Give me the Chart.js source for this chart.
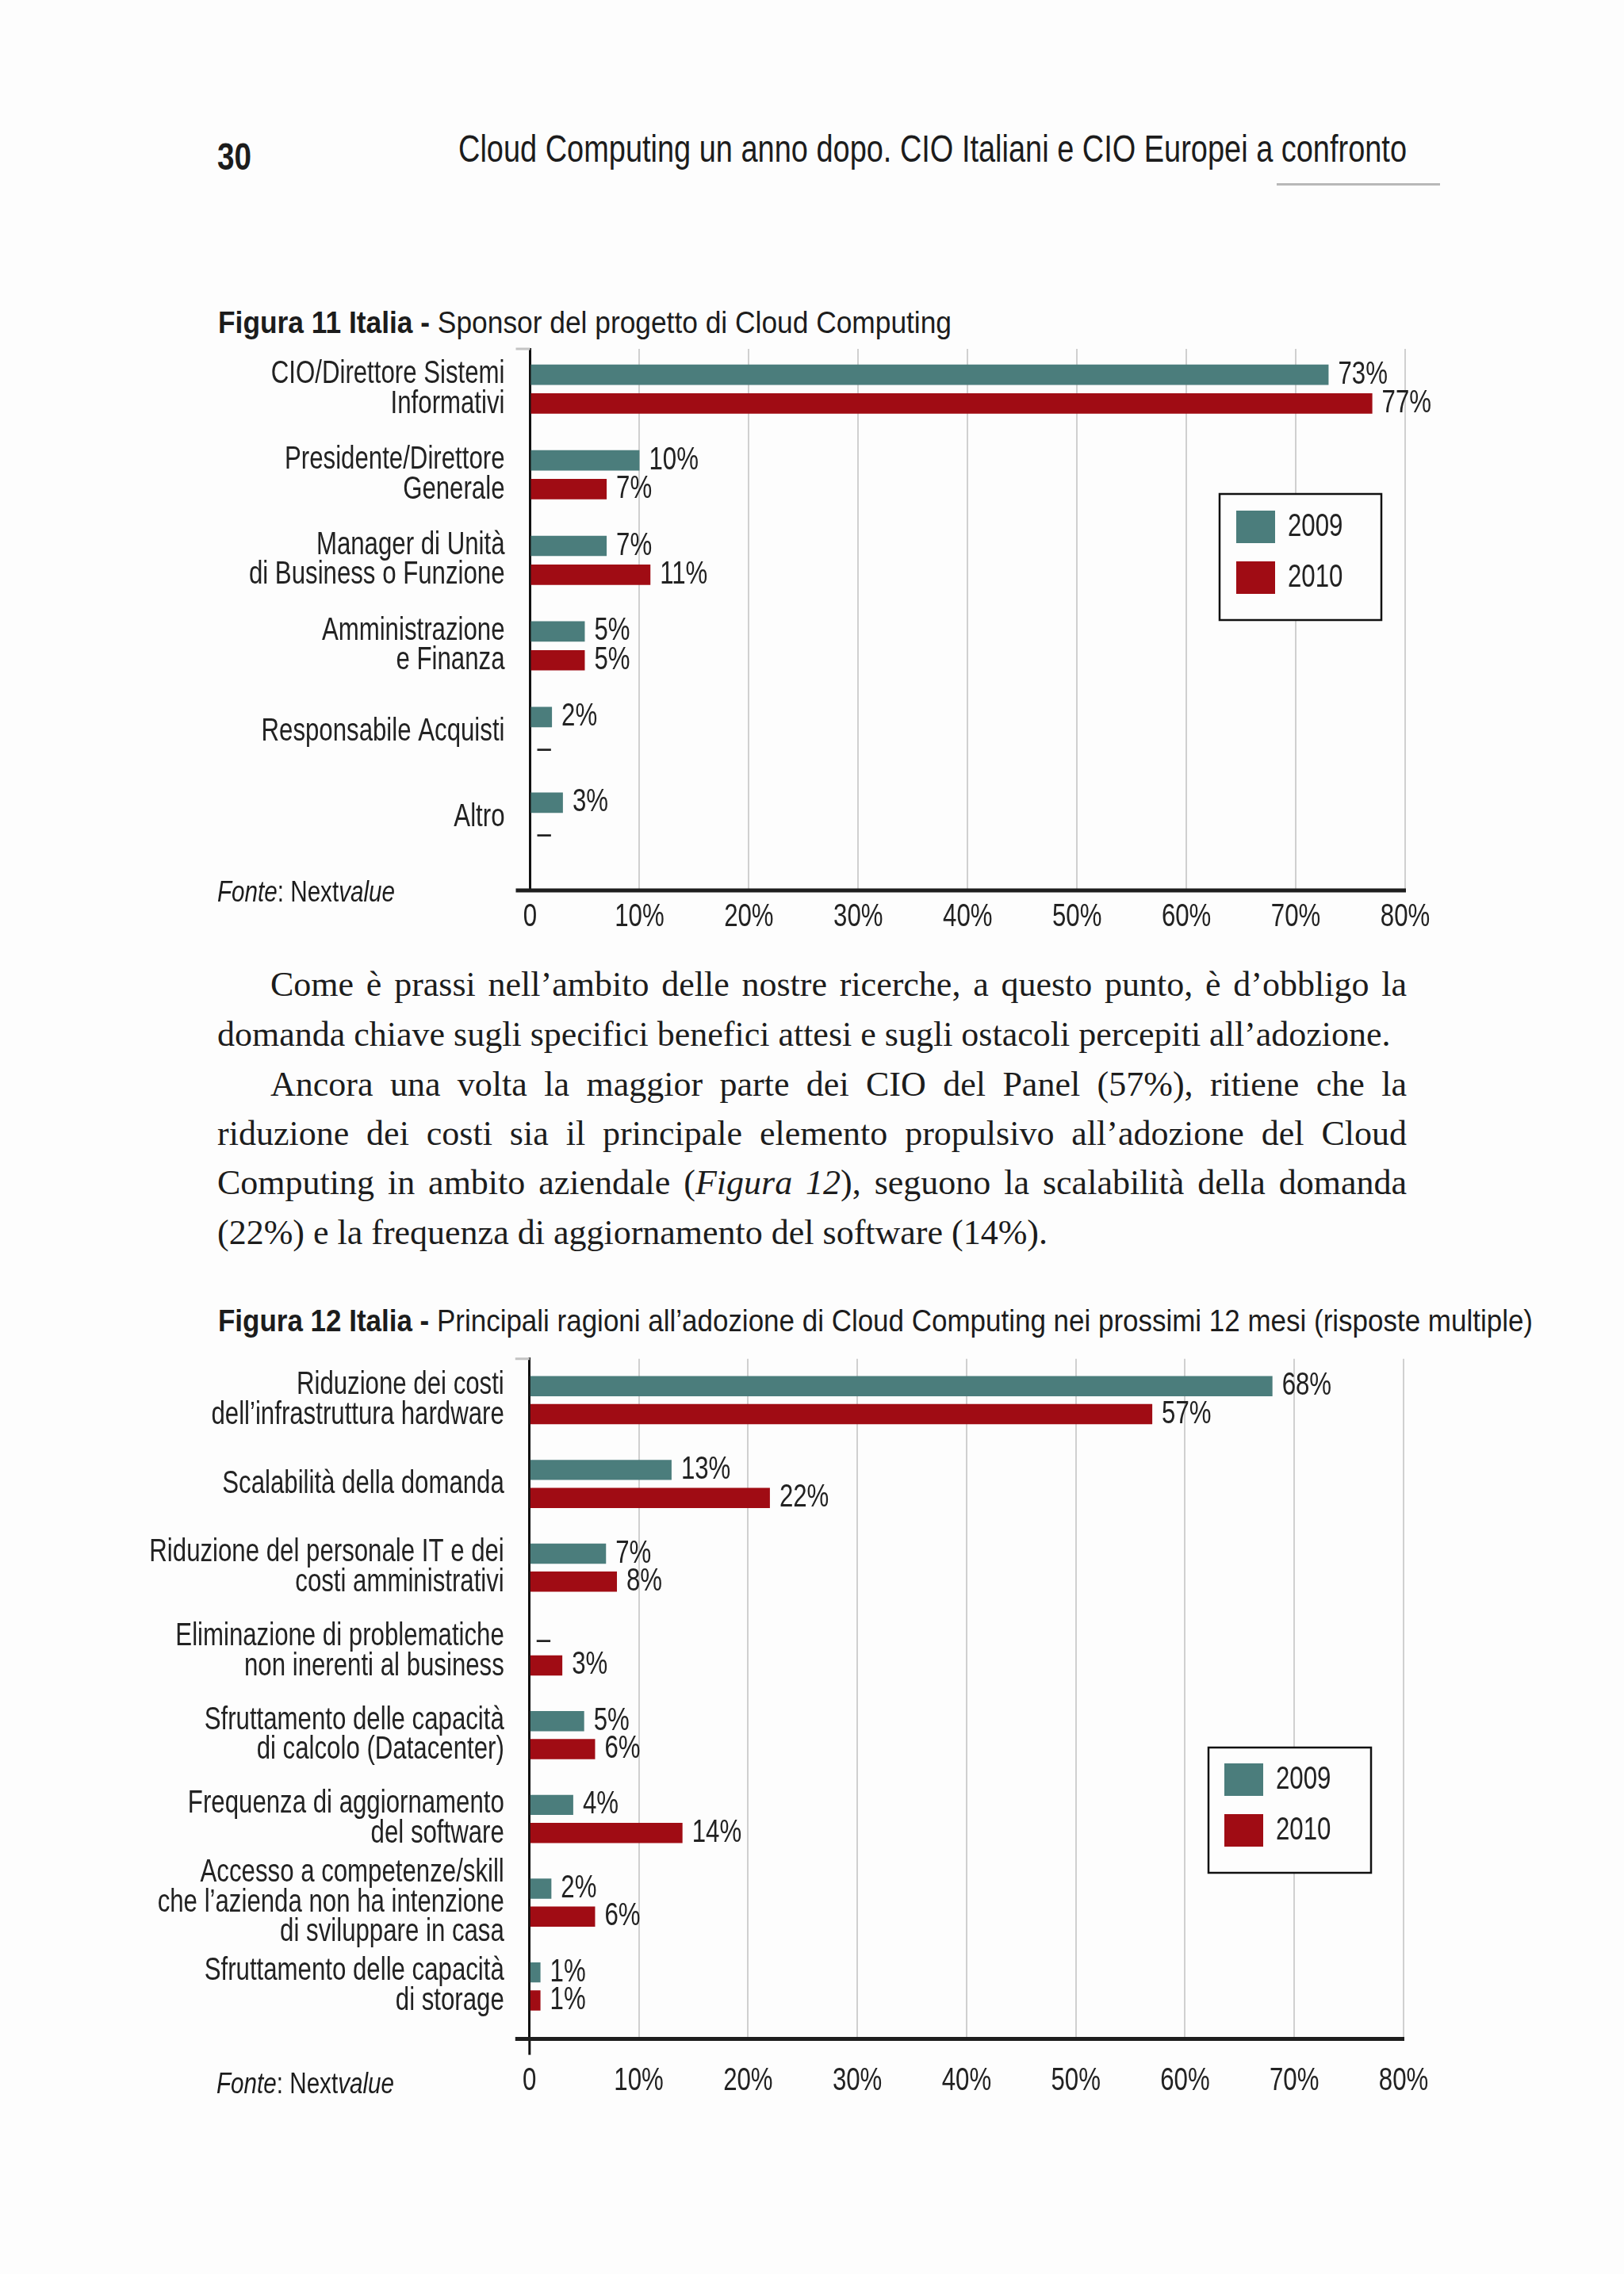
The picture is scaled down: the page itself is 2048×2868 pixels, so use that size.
<!DOCTYPE html>
<html lang="it">
<head>
<meta charset="utf-8">
<title>Cloud Computing un anno dopo</title>
<script src="https://cdn.jsdelivr.net/npm/chart.js@4.4.1/dist/chart.umd.min.js"></script>
<style>
  html, body { margin: 0; padding: 0; background: #fdfdfd; }
  body { width: 2048px; height: 2868px; position: relative; overflow: hidden; }
  .t {
    position: absolute; white-space: nowrap; line-height: 1; color: #1c1c1c;
    font-family: 'Liberation Sans', Arial, sans-serif;
  }
  .p {
    position: absolute; left: 274px; width: 1500px; line-height: 1; color: #1c1c1c;
    font-family: 'Liberation Serif', 'DejaVu Serif', serif; font-size: 44px;
  }
  .ind { left: 341px; width: 1433px; }
  .j { text-align: justify; text-align-last: justify; }
  .c { position: absolute; }
  #box1 { left: 150px; top: 420px; width: 1750px; height: 780px; }
  #box2 { left: 150px; top: 1690px; width: 1750px; height: 1000px; }
</style>
</head>
<body>

<div class="t" data-w="43" style="left:274px; top:174px; font-size:48px; font-weight:bold;">30</div>
<div class="t" data-w="1196" style="left:578px; top:164px; font-size:48px;">Cloud Computing un anno dopo. CIO Italiani e CIO Europei a confronto</div>
<div style="position:absolute; left:1610px; top:231px; width:206px; height:3px; background:#b8b8b8;"></div>

<div class="t" data-w="925" style="left:275px; top:387px; font-size:39px;"><b>Figura 11 Italia -</b> Sponsor del progetto di Cloud Computing</div>

<div class="c" id="box1"><canvas id="chart1"></canvas></div>
<div class="t" data-w="224" style="left:274px; top:1107px; font-size:36px;"><i>Fonte</i>: Next<i>value</i></div>

<div class="p ind j" style="top:1220px;">Come è prassi nell’ambito delle nostre ricerche, a questo punto, è d’obbligo la</div>
<div class="p" style="top:1283px;">domanda chiave sugli specifici benefici attesi e sugli ostacoli percepiti all’adozione.</div>
<div class="p ind j" style="top:1346px;">Ancora una volta la maggior parte dei CIO del Panel (57%), ritiene che la</div>
<div class="p j" style="top:1408px;">riduzione dei costi sia il principale elemento propulsivo all’adozione del Cloud</div>
<div class="p j" style="top:1470px;">Computing in ambito aziendale (<i>Figura 12</i>), seguono la scalabilità della domanda</div>
<div class="p" style="top:1533px;">(22%) e la frequenza di aggiornamento del software (14%).</div>

<div class="t" data-w="1658" style="left:275px; top:1647px; font-size:38px;"><b>Figura 12 Italia -</b> Principali ragioni all’adozione di Cloud Computing nei prossimi 12 mesi (risposte multiple)</div>

<div class="c" id="box2"><canvas id="chart2"></canvas></div>
<div class="t" data-w="224" style="left:273px; top:2609px; font-size:37px;"><i>Fonte</i>: Next<i>value</i></div>

<script>
  "use strict";

  // Series names and colours
  var years = ["2009", "2010"];
  var COLOR_2009 = "#4b7d7c";
  var COLOR_2010 = "#a00c14";
  var FONT = "'Liberation Sans', Arial, sans-serif";

  // Figura 11 - Sponsor del progetto di Cloud Computing
  var sponsorLabels = [
    ["CIO/Direttore Sistemi", "Informativi"],
    ["Presidente/Direttore", "Generale"],
    ["Manager di Unità", "di Business o Funzione"],
    ["Amministrazione", "e Finanza"],
    ["Responsabile Acquisti"],
    ["Altro"],
  ];
  var sponsor2009 = [73, 10, 7, 5, 2, 3];
  var sponsor2010 = [77, 7, 11, 5, null, null];

  // Figura 12 - Principali ragioni all'adozione
  var reasonLabels = [
    ["Riduzione dei costi", "dell’infrastruttura hardware"],
    ["Scalabilità della domanda"],
    ["Riduzione del personale IT e dei", "costi amministrativi"],
    ["Eliminazione di problematiche", "non inerenti al business"],
    ["Sfruttamento delle capacità", "di calcolo (Datacenter)"],
    ["Frequenza di aggiornamento", "del software"],
    ["Accesso a competenze/skill", "che l’azienda non ha intenzione", "di sviluppare in casa"],
    ["Sfruttamento delle capacità", "di storage"],
  ];
  var reasons2009 = [68, 13, 7, null, 5, 4, 2, 1];
  var reasons2010 = [57, 22, 8, 3, 6, 14, 6, 1];

  // Percent axis ticks
  var axisMin = 0;
  var axisMax = 80;
  var axisStep = 10;

  // Stretch the headings to the measured width of the printed (condensed) type
  document.querySelectorAll("[data-w]").forEach((el) => {
    var k = parseFloat(el.dataset.w) / el.getBoundingClientRect().width;
    el.style.transformOrigin = "0 0";
    el.style.transform = "scaleX(" + k + ")";
  });

  // The print uses a condensed sans; squeeze canvas text horizontally around its anchor
  function condenseText(canvas, k) {
    var ctx = canvas.getContext("2d");
    var fill = ctx.fillText;
    ctx.fillText = function (text, x, y) {
      this.save();
      this.translate(x, y);
      this.scale(k, 1);
      fill.call(this, text, 0, 0);
      this.restore();
    };
  }

  // Draws "73%" next to each bar, a dash where there is no answer
  var valueLabels = {
    id: "valueLabels",
    afterDatasetsDraw(chart) {
      var ctx = chart.ctx;
      var left = chart.chartArea.left;
      ctx.save();
      ctx.font = "40px " + FONT;
      ctx.fillStyle = "#222";
      ctx.textBaseline = "middle";
      chart.data.datasets.forEach((ds, di) => {
        chart.getDatasetMeta(di).data.forEach((bar, i) => {
          var v = ds.data[i].x;
          if (v === null) {
            ctx.fillText("–", left + 9, bar.y + 4);
          } else {
            ctx.fillText(v + "%", bar.x + 12, bar.y);
          }
        });
      });
      ctx.restore();
    },
  };

  // Boxed legend inside the plot
  var boxLegend = {
    id: "boxLegend",
    afterDraw(chart, args, opts) {
      var ctx = chart.ctx;
      ctx.save();
      ctx.fillStyle = "#fdfdfd";
      ctx.fillRect(opts.left, opts.top, opts.width, opts.height);
      ctx.strokeStyle = "#111";
      ctx.lineWidth = 2.5;
      ctx.strokeRect(opts.left, opts.top, opts.width, opts.height);
      ctx.font = "40px " + FONT;
      ctx.textBaseline = "middle";
      chart.data.datasets.forEach((ds, i) => {
        var y = opts.top + opts.pad + i * 64;
        ctx.fillStyle = ds.backgroundColor;
        ctx.fillRect(opts.left + opts.pad, y, 49, 41);
        ctx.fillStyle = "#222";
        ctx.fillText(ds.label, opts.left + opts.pad + 65, y + 21);
      });
      ctx.restore();
    },
  };

  // Thick baseline running a bit past the y axis, small stub at the top
  var axisLines = {
    id: "axisLines",
    afterDraw(chart, args, opts) {
      var ctx = chart.ctx;
      var a = chart.chartArea;
      ctx.save();
      if (opts.below) {
        ctx.strokeStyle = "#111";
        ctx.lineWidth = 3;
        ctx.beginPath();
        ctx.moveTo(a.left, a.bottom);
        ctx.lineTo(a.left, a.bottom + opts.below);
        ctx.stroke();
      }
      ctx.strokeStyle = "#1e1e1e";
      ctx.lineWidth = 5;
      ctx.beginPath();
      ctx.moveTo(a.left - 18, a.bottom);
      ctx.lineTo(a.right + 1, a.bottom);
      ctx.stroke();
      ctx.strokeStyle = "#c4c4c4";
      ctx.lineWidth = 3;
      ctx.beginPath();
      ctx.moveTo(a.left - 18, a.top);
      ctx.lineTo(a.left, a.top);
      ctx.stroke();
      ctx.restore();
    },
  };

  function buildChart(canvasId, labels, data2009, data2010, cfg) {
    var canvas = document.getElementById(canvasId);
    condenseText(canvas, 0.78);
    var toPoints = (arr) => arr.map((v, i) => ({ x: v, y: i }));

    return new Chart(canvas, {
      type: "bar",
      data: {
        datasets: [
          {
            label: years[0],
            data: toPoints(data2009),
            backgroundColor: COLOR_2009,
            categoryPercentage: cfg.catPct,
            barPercentage: cfg.barPct,
          },
          {
            label: years[1],
            data: toPoints(data2010),
            backgroundColor: COLOR_2010,
            categoryPercentage: cfg.catPct,
            barPercentage: cfg.barPct,
          },
        ],
      },
      options: {
        indexAxis: "y",
        responsive: true,
        maintainAspectRatio: false,
        animation: false,
        devicePixelRatio: 1,
        layout: { padding: { top: cfg.padTop, right: cfg.padRight, left: 0, bottom: 0 } },
        plugins: {
          legend: { display: false },
          tooltip: { enabled: false },
          boxLegend: cfg.legend,
          axisLines: { below: cfg.axisBelow },
        },
        scales: {
          x: {
            type: "linear",
            min: axisMin,
            max: axisMax,
            ticks: {
              stepSize: axisStep,
              padding: cfg.tickPad,
              font: { family: FONT, size: 40 },
              color: "#222",
              callback: (v) => (v === 0 ? "0" : v + "%"),
            },
            grid: {
              drawTicks: false,
              lineWidth: 2,
              color: (c) => (c.tick && c.tick.value === 0 ? "rgba(0,0,0,0)" : "#d0d0d0"),
            },
            border: { display: false },
            afterFit: (s) => {
              s.height = cfg.xHeight;
              s.paddingLeft = 0;
              s.paddingRight = 0;
            },
          },
          y: {
            type: "linear",
            reverse: true,
            offset: false,
            min: cfg.yMin,
            max: cfg.yMax,
            afterBuildTicks: (s) => { s.ticks = labels.map((l, i) => ({ value: i })); },
            ticks: {
              padding: 32,
              font: { family: FONT, size: 40, lineHeight: 0.94 },
              color: "#222",
              callback: (v) => labels[v],
            },
            grid: { display: false, drawTicks: false },
            border: { display: true, color: "#111", width: 3 },
            afterFit: (s) => {
              s.width = cfg.yWidth;
              s.paddingTop = 0;
              s.paddingBottom = 0;
            },
          },
        },
      },
      plugins: [valueLabels, boxLegend, axisLines],
    });
  }

  buildChart("chart1", sponsorLabels, sponsor2009, sponsor2010, {
    yMin: -0.47, yMax: 5.857,
    catPct: 0.6725, barPct: 0.708,
    padTop: 20, padRight: 128,
    yWidth: 518.5, xHeight: 77, tickPad: 10,
    axisBelow: 0,
    legend: { left: 1388, top: 203, width: 204, height: 159, pad: 21 },
  });

  buildChart("chart2", reasonLabels, reasons2009, reasons2010, {
    yMin: -0.494, yMax: 7.628,
    catPct: 0.668, barPct: 0.722,
    padTop: 23.7, padRight: 130,
    yWidth: 517.8, xHeight: 118.4, tickPad: 29,
    axisBelow: 20,
    legend: { left: 1374, top: 514, width: 205, height: 158, pad: 20 },
  });
</script>
</body>
</html>
